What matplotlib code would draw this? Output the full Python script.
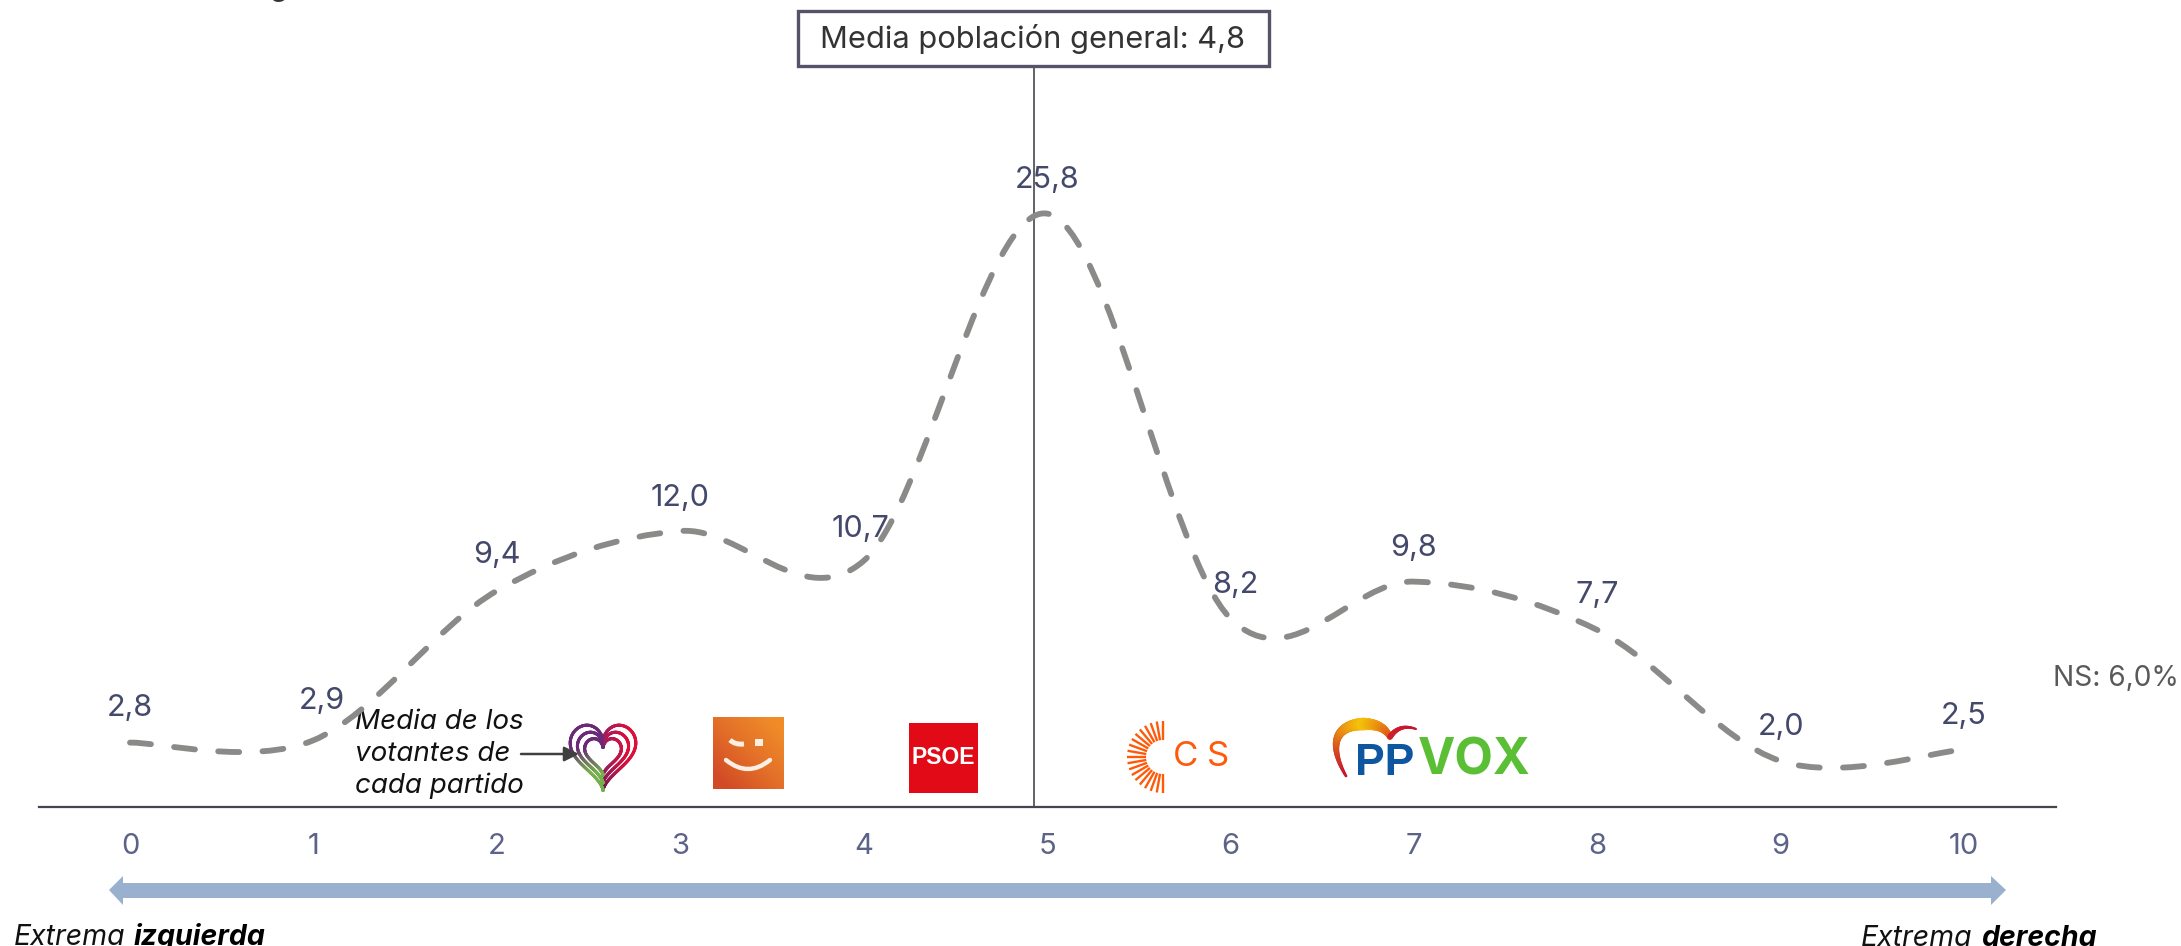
import numpy as np
import matplotlib
matplotlib.use('Agg')
import matplotlib.pyplot as plt
from matplotlib.collections import LineCollection
from matplotlib.colors import LinearSegmentedColormap, to_rgb
from matplotlib.patches import PathPatch, Polygon, Rectangle
from matplotlib.path import Path

plt.rcParams['font.family'] = ['Inter', 'DejaVu Sans']

# datos
posiciones = [0, 1, 2, 3, 4, 5, 6, 7, 8, 9, 10]
porcentajes = [2.8, 2.9, 9.4, 12.0, 10.7, 25.8, 8.2, 9.8, 7.7, 2.0, 2.5]
etiquetas = ['2,8', '2,9', '9,4', '12,0', '10,7', '25,8', '8,2', '9,8', '7,7', '2,0', '2,5']
# desplazamiento de cada etiqueta respecto a su punto, en px
offs_x = [0, 8, 0, 0, -3, 0, 5, 0, 0, 0, 0]
offs_y = [35, 39, 36, 33, 32, 34, 33, 34, 35, 34, 34]

W, H = 2181, 946
PX_X = 183.4   # px por unidad x
PX_Y = 23.0    # px por punto porcentual
X0, BASE = 130, 807
AX_L, AX_R = 39, 2056

fig = plt.figure(figsize=(W / 100, H / 100), dpi=100, facecolor='white')

# capa en pixeles para cajas, logos y textos sueltos
px = fig.add_axes([0, 0, 1, 1])
px.set_xlim(0, W)
px.set_ylim(H, 0)
px.axis('off')

ax = fig.add_axes([AX_L / W, (H - BASE) / H, (AX_R - AX_L) / W, BASE / H])
ax.set_xlim((AX_L - X0) / PX_X, (AX_R - X0) / PX_X)
ax.set_ylim(0, BASE / PX_Y)
ax.patch.set_alpha(0)
for s in ['top', 'left', 'right']:
    ax.spines[s].set_visible(False)
ax.spines['bottom'].set_color('#45454f')
ax.spines['bottom'].set_linewidth(1.6)
ax.set_yticks([])
ax.set_xticks(posiciones)
ax.set_xticklabels([str(p) for p in posiciones], fontsize=21, color='#5c6288')
ax.tick_params(axis='x', length=0, pad=19)


def curva_suave(xs, ys):
    # linea suavizada tipo excel
    pts = np.column_stack([xs, ys])
    verts = [pts[0]]
    codes = [Path.MOVETO]
    for i in range(len(pts) - 1):
        p0 = pts[max(i - 1, 0)]
        p1, p2 = pts[i], pts[i + 1]
        p3 = pts[min(i + 2, len(pts) - 1)]
        verts += [p1 + (p2 - p0) / 6, p2 - (p3 - p1) / 6, p2]
        codes += [Path.CURVE4] * 3
    return Path(verts, codes)


ax.add_patch(PathPatch(curva_suave(posiciones, porcentajes), fill=False, edgecolor='#8a8a88',
                       lw=4.2, linestyle=(0, (3.6, 4.0)), capstyle='round', joinstyle='round'))

for x, y, t, dx, dy in zip(posiciones, porcentajes, etiquetas, offs_x, offs_y):
    ax.annotate(t, (x, y), xytext=(dx * 0.72, dy * 0.72), textcoords='offset points', ha='center',
                va='center', fontsize=22, color='#44496b', annotation_clip=False)

# media poblacion general
px.plot([1034, 1034], [66, BASE], color='#55555f', lw=1.3)
px.add_patch(Rectangle((798, 11), 471, 55, facecolor='white', edgecolor='#55536a', lw=2.4, zorder=3))
px.text(1033, 39, 'Media población general: 4,8', ha='center', va='center', fontsize=22.2,
        color='#333333', zorder=4)

px.text(2116, 678, 'NS: 6,0%', ha='center', va='center', fontsize=20.2, color='#595959')

# flecha azul
px.add_patch(Polygon([(109, 890), (123, 876), (123, 883), (1991, 883), (1991, 876), (2006, 890),
                      (1991, 905), (1991, 898), (123, 898), (123, 905)],
                     closed=True, facecolor='#9ab0cf', edgecolor='none'))


def texto_mixto(x, y, normal, negrita):
    t1 = px.text(x, y, normal, ha='left', va='center_baseline', fontsize=20.5, style='italic',
                 color='#111111')
    r = fig.canvas.get_renderer()
    bb = t1.get_window_extent(r)
    px.text(bb.x1 + 8, y, negrita, ha='left', va='center_baseline', fontsize=20.5, style='italic',
            color='black', fontweight='bold')


texto_mixto(14, 934, 'Extrema', 'izquierda')
texto_mixto(1861, 935, 'Extrema', 'derecha')

# restos del subtitulo cortado arriba
for x0, c in [(107, '('), (281, 'g'), (405, ')')]:
    px.text(x0, -4, c, ha='center', va='baseline', fontsize=21, style='italic', color='#333333')

# nota media de votantes
for yy, linea in zip([722, 754, 786], ['Media de los', 'votantes de', 'cada partido']):
    px.text(355, yy, linea, ha='left', va='center', fontsize=20, style='italic', color='#111111')
px.annotate('', xy=(579, 754), xytext=(521, 754),
            arrowprops=dict(arrowstyle='-|>', color='#404040', lw=1.8, mutation_scale=22,
                            shrinkA=0, shrinkB=0), zorder=6)


# ---- logos ----
def mezcla(a, b, t):
    a, b = np.array(to_rgb(a)), np.array(to_rgb(b))
    return a + (b - a) * t


# corazon: tres trazos concentricos
t = np.linspace(0, 2 * np.pi, 400)
hx = 16 * np.sin(t) ** 3
hy = 13 * np.cos(t) - 5 * np.cos(2 * t) - 2 * np.cos(3 * t) - np.cos(4 * t)
for esc, lw in [(1.0, 2.2), (0.78, 2.2), (0.56, 2.2)]:
    xs = 603 + hx * 2.05 * esc
    ys = 752 - (hy - 0.5 * (1 - esc) * 6) * 2.25 * esc
    seg = np.stack([np.column_stack([xs[:-1], ys[:-1]]), np.column_stack([xs[1:], ys[1:]])], axis=1)
    cols = []
    for xi, yi in zip(xs[:-1], ys[:-1]):
        u = np.clip((yi - 722) / 71, 0, 1)
        if xi < 603:
            cols.append(mezcla('#6b2a78', '#76b04e', np.clip((u - 0.35) / 0.35, 0, 1)))
        else:
            cols.append(mezcla('#a01e60', '#dd0f3a', np.clip((xi - 603) / 25, 0, 1)) * (1 - 0.45 * u ** 6))
    px.add_collection(LineCollection(seg, colors=cols, linewidths=lw, capstyle='round', zorder=5))

# sonrisa naranja
degr = LinearSegmentedColormap.from_list('naranja', ['#d24a26', '#e36f28', '#ef8c28'])
grad = np.add.outer(np.linspace(1, 0, 60), np.linspace(0, 1, 60)) / 2
px.imshow(grad, cmap=degr, extent=(713, 784, 789, 718), aspect='auto', zorder=2, vmin=0.1, vmax=0.9)
px.set_xlim(0, W)
px.set_ylim(H, 0)
px.add_patch(Rectangle((755, 739), 7.5, 6.5, facecolor='#fbeee2', edgecolor='none', zorder=3))
px.add_patch(PathPatch(Path([(730, 740), (735, 745), (744, 744)], [Path.MOVETO, Path.CURVE3, Path.CURVE3]),
                       fill=False, edgecolor='#fbeee2', lw=3.6, zorder=3))
px.add_patch(PathPatch(Path([(726, 760), (748, 778), (770, 760)], [Path.MOVETO, Path.CURVE3, Path.CURVE3]),
                       fill=False, edgecolor='#fbeee2', lw=3.2, capstyle='round', zorder=3))

# psoe
px.add_patch(Rectangle((909, 723), 69, 70, facecolor='#e30a17', edgecolor='none'))
px.text(943.5, 757, 'PSOE', ha='center', va='center', fontsize=16.5, color='white', fontweight='bold',
        family='Liberation Sans')

# ciudadanos
for ang in np.linspace(90, 270, 19):
    a = np.deg2rad(ang)
    px.plot([1163 + 17 * np.cos(a), 1163 + 36 * np.cos(a)], [757 - 17 * np.sin(a), 757 - 36 * np.sin(a)],
            color='#ff5a0a', lw=1.7, solid_capstyle='butt')
px.text(1186, 757, 'C', ha='center', va='center', fontsize=25, color='#ff5a0a')
px.text(1218, 757, 'S', ha='center', va='center', fontsize=25, color='#ff5a0a')

# pp: arco con degradado
def bez(p0, p1, p2, p3, n=40):
    u = np.linspace(0, 1, n)[:, None]
    p0, p1, p2, p3 = map(np.array, (p0, p1, p2, p3))
    return (1 - u) ** 3 * p0 + 3 * (1 - u) ** 2 * u * p1 + 3 * (1 - u) * u ** 2 * p2 + u ** 3 * p3


arco = bez((1346, 776), (1328, 745), (1335, 725), (1363, 724))
arco2 = bez((1363, 724), (1378, 724), (1385, 728), (1390, 737))
ala = bez((1390, 737), (1396, 728), (1405, 725), (1416, 729), 25)
for trazo, c_ini, c_fin, w_ini, w_fin in [(arco, '#c5122e', '#f5b90a', 2, 9), (arco2, '#f5c40a', '#e05a1a', 9, 4),
                                          (ala, '#d0202a', '#c5122e', 4, 1.5)]:
    seg = np.stack([trazo[:-1], trazo[1:]], axis=1)
    n = len(seg)
    px.add_collection(LineCollection(seg, colors=[mezcla(c_ini, c_fin, i / (n - 1)) for i in range(n)],
                                     linewidths=np.linspace(w_ini, w_fin, n), capstyle='round', zorder=4))
px.text(1385, 763, 'PP', ha='center', va='center', fontsize=32, color='#0f56a0', fontweight='bold',
        family='Liberation Sans', zorder=5)
px.text(1474, 761, 'VOX', ha='center', va='center', fontsize=36, color='#5bbf35', fontweight='bold',
        zorder=5)

fig.savefig('out.png', dpi=100, facecolor='white')
